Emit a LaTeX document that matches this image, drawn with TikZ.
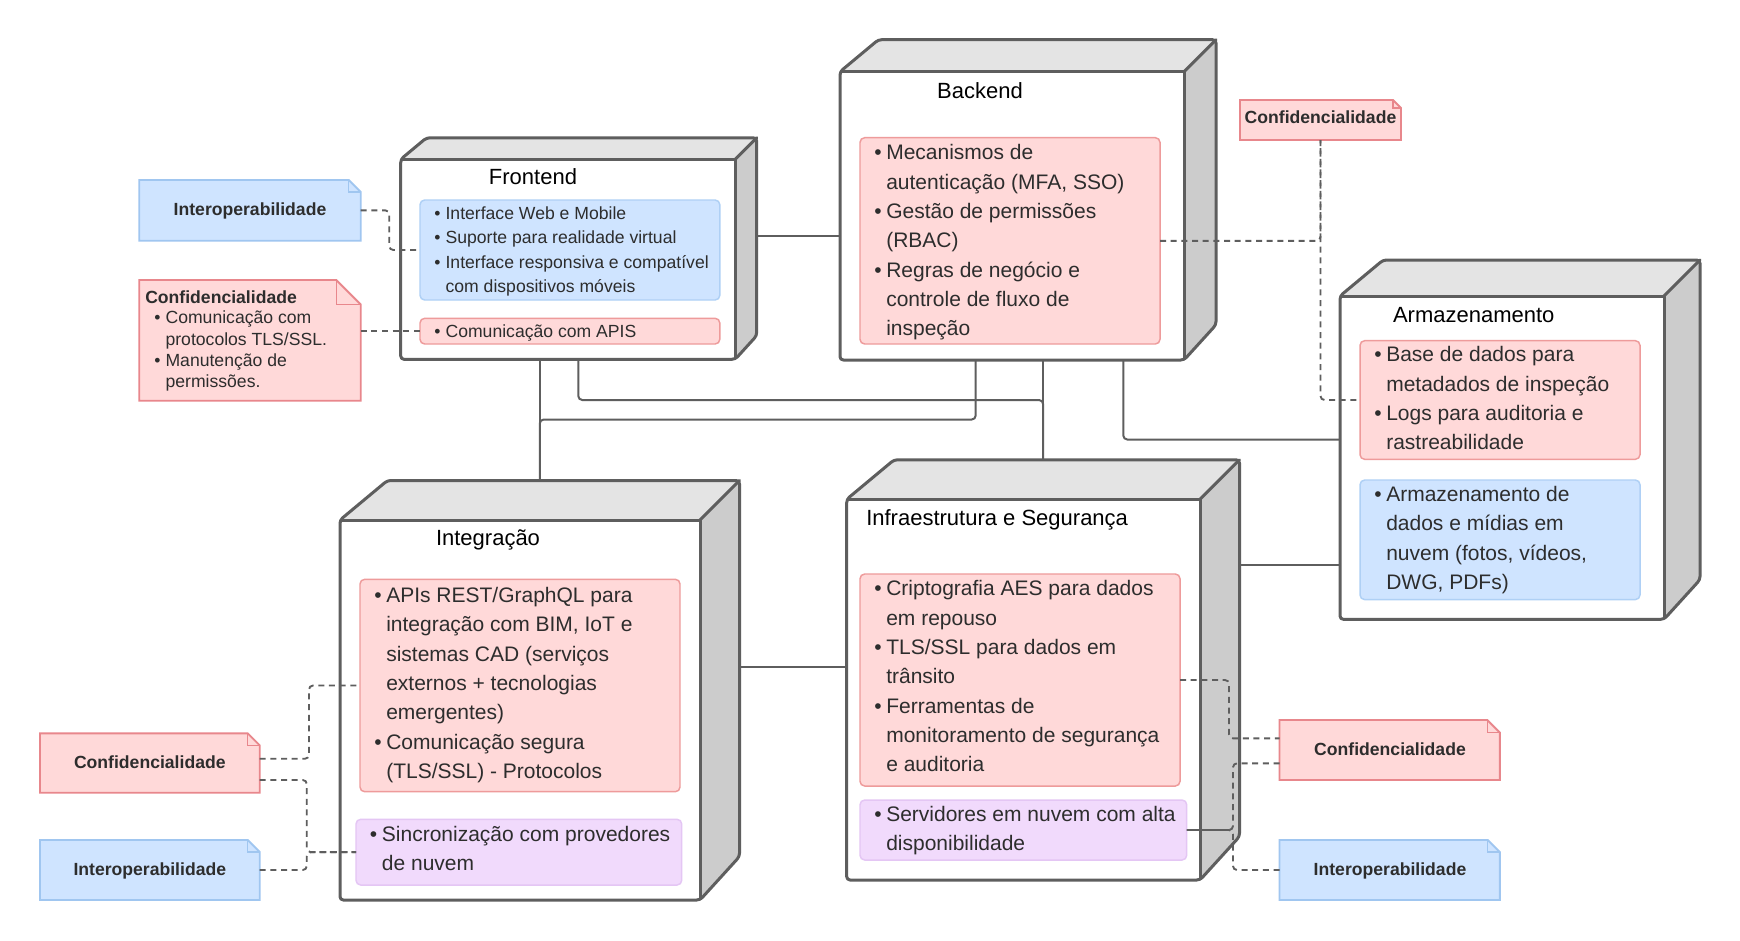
\documentclass[tikz,border=0pt]{standalone}
\usepackage{fontspec}
\setmainfont{Liberation Sans}
\usetikzlibrary{fit,calc}
\definecolor{edge}{RGB}{94,94,94}
\definecolor{topf}{RGB}{228,228,228}
\definecolor{sidef}{RGB}{204,204,204}
\definecolor{pinkf}{RGB}{255,217,217}
\definecolor{pinkd}{RGB}{238,155,155}
\definecolor{pinkn}{RGB}{232,135,140}
\definecolor{bluef}{RGB}{207,228,255}
\definecolor{blued}{RGB}{175,208,245}
\definecolor{bluen}{RGB}{160,198,240}
\definecolor{purf}{RGB}{241,218,252}
\definecolor{purd}{RGB}{228,198,244}
\definecolor{txt}{RGB}{45,45,45}
\newcommand\bulL{\makebox[9pt][l]{•}}
\newcommand\hngL{\hspace*{9pt}}
\newcommand\bulS{\makebox[8.5pt][l]{•}}
\newcommand\hngS{\hspace*{8.5pt}}
\tikzset{
  conn/.style={draw=edge, line width=1.5pt, rounded corners=3pt},
  dconn/.style={draw=edge, line width=1.4pt, dash pattern=on 4.5pt off 3.5pt, rounded corners=3pt},
  fitbox/.style={inner sep=0pt, outer sep=0pt},
  ipink/.style={fitbox, fill=pinkf, draw=pinkd, line width=1.1pt, rounded corners=3.5pt},
  iblue/.style={fitbox, fill=bluef, draw=blued, line width=1.1pt, rounded corners=3.5pt},
  ipur/.style={fitbox, fill=purf, draw=purd, line width=1.1pt, rounded corners=3.5pt},
  bodyL/.style={anchor=north west, inner sep=0pt, align=left, text=txt, font=\fontsize{15.75}{22}\selectfont, execute at begin node=\strut},
  bodyS/.style={anchor=north west, inner sep=0pt, align=left, text=txt, font=\fontsize{13.2}{18.3}\selectfont, execute at begin node=\strut},
  noteS/.style={anchor=north west, inner sep=0pt, align=left, text=txt, font=\fontsize{13.2}{16}\selectfont, execute at begin node=\strut},
  ttl/.style={anchor=base, inner sep=0pt, text=black, font=\fontsize{16.5}{20}\selectfont},
  ntxt/.style={anchor=base, inner sep=0pt, text=txt, font=\bfseries\fontsize{13.2}{16}\selectfont},
}
% 3D node box: name, x0, y0, x1, y1, depth
\newcommand\nodebox[6]{%
  \fill[white] (#2,#3) rectangle (#4,#5);
  \fill[topf] (#2,#3) -- (#2+1.2*#6,#3-#6) -- (#4+#6,#3-#6) -- (#4,#3) -- cycle;
  \fill[sidef] (#4,#3) -- (#4+#6,#3-#6) -- (#4+#6,#5-1.1*#6) -- (#4,#5) -- cycle;
  \draw[edge, line width=2.25pt, line join=round, rounded corners=2.5pt]
    (#2,#3) -- (#2+1.2*#6,#3-#6) -- (#4+#6,#3-#6) -- (#4+#6,#5-1.1*#6) -- (#4,#5) -- (#2,#5) -- cycle;
  \draw[edge, line width=2.25pt, line join=round] (#2,#3) -- (#4,#3) -- (#4,#5);
  \draw[edge, line width=2.25pt, line cap=round] (#4,#3) -- (#4+#6,#3-#6);
  \node[fitbox, fit={(#2,#3)(#4,#5)}] (#1F) {};
  \node[fitbox, fit={(#2,#3-#6)(#4+#6,#5)}] (#1) {};
}
% note: name, x0, y0, x1, y1, fold, fill, draw
\newcommand\notebox[8]{%
  \filldraw[fill=#7, draw=#8, line width=1.4pt] (#2,#3) -- (#4-#6,#3) -- (#4,#3+#6) -- (#4,#5) -- (#2,#5) -- cycle;
  \draw[#8, line width=1pt] (#4-#6,#3) -- (#4-#6,#3+#6) -- (#4,#3+#6);
  \node[fitbox, fit={(#2,#3)(#4,#5)}] (#1) {};
}
\begin{document}
\begin{tikzpicture}[x=0.75pt,y=-0.75pt]
\fill[white] (0,0) rectangle (1740,940);
\useasboundingbox (0,0) rectangle (1740,940);

% ---------- 3D boxes ----------
\nodebox{fe}{400.7}{159.3}{735.2}{359.3}{21.5}
\nodebox{be}{840}{71.7}{1184}{360}{32}
\nodebox{ar}{1340}{296}{1664}{619.3}{36}
\nodebox{ig}{340}{520}{700}{900}{39.5}
\nodebox{inf}{846.7}{499.3}{1200}{880}{39.5}

% ---------- solid connectors ----------
\draw[conn] (fe.east |- 0,236) -- (beF.west |- 0,236);
\draw[conn] (feF.south -| ig.north) -- (ig.north);
\draw[conn] (beF.south -| 975.7,0) |- (ig.north |- 0,419.5) -- (ig.north);
\draw[conn] (feF.south -| 578.3,0) |- (inf.north |- 0,400) -- (inf.north);
\draw[conn] (beF.south -| inf.north) -- (inf.north);
\draw[conn] (beF.south -| 1123.3,0) |- (arF.west |- 0,439.5);
\draw[conn] (inf.east |- 0,565) -- (arF.west |- 0,565);
\draw[conn] (ig.east |- 0,666.7) -- (infF.west |- 0,666.7);

% ---------- inner boxes ----------
\node[iblue, fit={(420,200)(719.8,300)}] (feblue) {};
\node[ipink, fit={(420,318.3)(719.8,344)}] (fered) {};
\node[ipink, fit={(860,137.7)(1160,344)}] (bered) {};
\node[ipink, fit={(1360,340.7)(1640,459.3)}] (arred) {};
\node[iblue, fit={(1360,480)(1640,599.6)}] (arblue) {};
\node[ipink, fit={(360,579.3)(680,791.7)}] (igred) {};
\node[ipur, fit={(356,819.3)(681.7,885)}] (igpur) {};
\node[ipink, fit={(860,574)(1180,786)}] (ifred) {};
\node[ipur, fit={(860,800)(1186.7,860)}] (ifpur) {};

% ---------- titles ----------
\node[ttl] (fet) at (533,184.8) {Frontend};
\node[ttl] (bet) at (980,98.5) {Backend};
\node[ttl] (art) at (1473.7,322.5) {Armazenamento};
\node[ttl] (igt) at (488,545.5) {Integração};
\node[ttl, anchor=base west] (ift) at (866,525.8) {Infraestrutura e Segurança};

% ---------- inner texts ----------
\node[bodyS] (febtx) at (434,206.5) {\bulS Interface Web e Mobile\\\bulS Suporte para realidade virtual\\\bulS Interface responsiva e compatível\\\hngS com dispositivos móveis};
\node[bodyS] (fertx) at (434,320.5) {\bulS Comunicação com APIS};
\node[bodyL] (betx) at (874,144.3) {\bulL Mecanismos de\\\hngL autenticação (MFA, SSO)\\\bulL Gestão de permissões\\\hngL (RBAC)\\\bulL Regras de negócio e\\\hngL controle de fluxo de\\\hngL inspeção};
\node[bodyL] (artx) at (1374,346.5) {\bulL Base de dados para\\\hngL metadados de inspeção\\\bulL Logs para auditoria e\\\hngL rastreabilidade};
\node[bodyL] (arbtx) at (1374,486) {\bulL Armazenamento de\\\hngL dados e mídias em\\\hngL nuvem (fotos, vídeos,\\\hngL DWG, PDFs)};
\node[bodyL] (igtx) at (374,587) {\bulL APIs REST/GraphQL para\\\hngL integração com BIM, IoT e\\\hngL sistemas CAD (serviços\\\hngL externos + tecnologias\\\hngL emergentes)\\\bulL Comunicação segura\\\hngL (TLS/SSL) - Protocolos};
\node[bodyL] (igptx) at (369.7,826) {\bulL Sincronização com provedores\\\hngL de nuvem};
\node[bodyL] (iftx) at (874,580.3) {\bulL Criptografia AES para dados\\\hngL em repouso\\\bulL TLS/SSL para dados em\\\hngL trânsito\\\bulL Ferramentas de\\\hngL monitoramento de segurança\\\hngL e auditoria};
\node[bodyL] (ifptx) at (874,806) {\bulL Servidores em nuvem com alta\\\hngL disponibilidade};

% ---------- notes ----------
\notebox{n1}{139.3}{180}{360.7}{240.7}{12}{bluef}{bluen}
\notebox{n2}{139.3}{280}{360.7}{400.7}{24.5}{pinkf}{pinkn}
\notebox{n3}{1240}{100}{1401}{140}{8}{pinkf}{pinkn}
\notebox{n4}{1279.5}{720}{1499.8}{780}{12.5}{pinkf}{pinkn}
\notebox{n5}{1279.5}{840}{1499.8}{900}{12}{bluef}{bluen}
\notebox{n6}{40}{733.3}{259.7}{792.7}{12}{pinkf}{pinkn}
\notebox{n7}{40}{840}{259.7}{900}{12}{bluef}{bluen}

\node[ntxt] (n1t) at (250,215.3) {Interoperabilidade};
\node[ntxt, anchor=base west] (n2t) at (145,303.5) {Confidencialidade};
\node[noteS] (n2b) at (154,310.8) {\bulS Comunicação com\\\hngS protocolos TLS/SSL.\\\bulS Manutenção de\\\hngS permissões.};
\node[ntxt] (n3t) at (1320.5,123.5) {Confidencialidade};
\node[ntxt] (n4t) at (1390,755.3) {Confidencialidade};
\node[ntxt] (n5t) at (1390,875.3) {Interoperabilidade};
\node[ntxt] (n6t) at (149.8,768) {Confidencialidade};
\node[ntxt] (n7t) at (149.8,875.3) {Interoperabilidade};

% ---------- dashed connectors ----------
\draw[dconn] (n1.east) -- ++(28.6,0) |- (feblue.west);
\draw[dconn] (n2.east |- fered.west) -- (fered.west);
\draw[dconn] (bered.east) -| (n3.south);
\draw[dconn] (n3.south) |- (arred.west);
\draw[dconn] (ifred.east) -- ++(49,0) |- ($(n4.west)+(0,-11.7)$);
\draw[dconn] ($(n4.west)+(0,13.3)$) -| ($(ifpur.east)+(46.3,0)$) -- (ifpur.east);
\draw[dconn] (n5.west) -| ($(ifpur.east)+(46.3,0)$) -- (ifpur.east);
\draw[dconn] ($(n6.east)+(0,-4.3)$) -| ($(igred.west)+(-51,0)$) -- (igred.west);
\draw[dconn] ($(n6.east)+(0,17)$) -| ($(igpur.west)+(-49.2,0)$) -- (igpur.west);
\draw[dconn] (n7.east) -| ($(igpur.west)+(-49.2,0)$) -- (igpur.west);
\end{tikzpicture}
\end{document}
